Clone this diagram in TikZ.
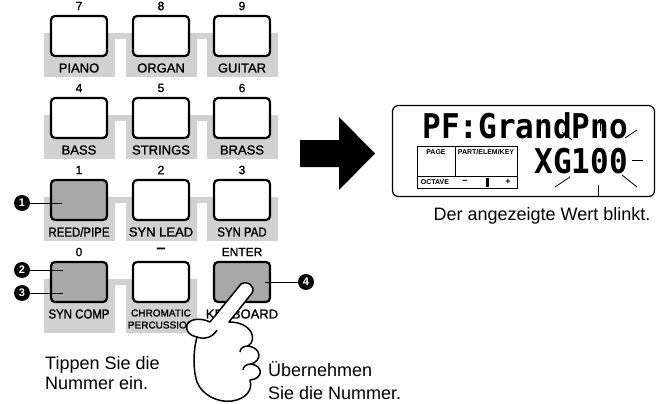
\documentclass[tikz,border=0pt]{standalone}
\usepackage{fontspec}
\setmainfont{Liberation Sans}
\newfontfamily\keyfont[FakeBold=1.2]{Liberation Sans}
\newfontfamily\lcdfont{DejaVu Sans Mono}
\definecolor{panelgray}{gray}{0.82}
\definecolor{keygray}{gray}{0.66}
\def\sz#1{\fontsize{#1}{#1}\selectfont}
\def\lcd#1{\lcdfont\bfseries\sz{31}\scalebox{1}[1.1]{#1}}
\def\narrow#1{\scalebox{0.88}[1]{#1}}

\tikzset{
  key/.style={draw, line width=2.2pt, rounded corners=4pt, fill=white, minimum width=56pt, minimum height=40pt, inner sep=0pt},
  hit/.style={key, fill=keygray},
  keyname/.style={font=\keyfont\sz{13}, inner sep=0pt},
  keynum/.style={font=\keyfont\sz{12}, inner sep=0pt},
  badge/.style={circle, fill=black, text=white, font=\bfseries\sz{11}, inner sep=0pt, minimum size=16pt},
  lead/.style={line width=0.8pt},
  small/.style={font=\bfseries\sz{7}, inner sep=0pt},
  caption/.style={font=\sz{18}, inner sep=0pt},
  hand/.style={draw, fill=white, line width=1.5pt, line join=round}
}

\begin{document}
\begin{tikzpicture}[x=1pt, y=-1pt]
\useasboundingbox (0,0) rectangle (670,404);

% grey strips behind the keys
\foreach \y in {36,118,200}{
  \fill[panelgray] (44,\y-3) rectangle (278,\y+3);
  \foreach \x in {79,161,242} \fill[panelgray] (\x-35,\y-3) rectangle (\x+36,\y+41);
}
\fill[panelgray] (44,279) rectangle (197,285);
\foreach \x in {79,161} \fill[panelgray] (\x-35,279) rectangle (\x+36,333);

% keys
\foreach \n/\x/\y/\lab in {7/79/36/PIANO, 8/161/36/ORGAN, 9/242/36/GUITAR,
    4/79/118/BASS, 5/161/118/STRINGS, 6/242/118/BRASS,
    2/161/200/SYN LEAD, 3/242/200/\narrow{SYN PAD}}{
  \node[key] (k\n) at (\x,\y) {};
  \node[keynum] (k\n-num) at (\x,\y-30) {\n};
  \node[keyname] (k\n-lab) at (\x,\y+32) {\lab};
}
\node[hit] (k1) at (79,200) {};
\node[keynum] (k1-num) at (79,170) {1};
\node[keyname] (k1-lab) at (79,232) {\narrow{REED/PIPE}};
\node[hit] (k0) at (79,282) {};
\node[keynum] (k0-num) at (79,252) {0};
\node[keyname] (k0-lab) at (79,314) {\narrow{SYN COMP}};
\node[key] (kdash) at (161,282) {};
\node[keynum, font=\bfseries\sz{17}] (kdash-num) at (161,251) {–};
\node[keyname, font=\keyfont\fontsize{10}{12}\selectfont, align=center] (kdash-lab) at (161,319) {CHROMATIC\\PERCUSSION};
\node[hit] (kent) at (242,282) {};
\node[keynum] (kent-num) at (242,252) {ENTER};
\node[keyname] (kent-lab) at (242,314) {KEYBOARD};

% step markers
\node[badge] (b1) at (22,203) {1};
\node[badge] (b2) at (22,270) {2};
\node[badge] (b3) at (22,293) {3};
\node[badge] (b4) at (306,282) {4};
\coordinate (b1-end) at (62,203);
\coordinate (b2-end) at (63,270);
\coordinate (b3-end) at (63,293);
\coordinate (b4-end) at (265,282);
\foreach \i in {1,...,4} \draw[lead] (b\i) -- (b\i-end);

% big arrow
\fill (300,140) -- (339,140) -- (339,117) -- (375,153.5) -- (339,190) -- (339,167) -- (300,167) -- cycle;

% display
\node[draw, line width=1.2pt, rounded corners=6pt, minimum width=262pt, minimum height=91pt, inner sep=0pt] (lcd) at (523.5,151) {};
\node[inner sep=0pt, anchor=base east] (lcd-name) at (628,139) {\lcd{PF:GrandPno}};
\node[inner sep=0pt, anchor=base east] (lcd-value) at (628,173) {\lcd{XG100}};
\draw[line width=0.9pt] (417,146) rectangle (517,188) (417,176) -- (517,176) (455,146) -- (455,176);
\node[small] (pg) at (436,152) {PAGE};
\node[small] (pek) at (486,152) {PART/ELEM/KEY};
\node[small] (oct) at (435,182) {OCTAVE};
\node[small, font=\bfseries\sz{10}] (oct-dn) at (465,181.5) {–};
\node[small, font=\bfseries\sz{9}] (oct-up) at (508,182) {+};
\fill (485.5,177.5) rectangle (488.5,186.5);
\foreach \xa/\ya/\xb/\yb in {600/119/600/131, 562/132/572/140, 625/138/637/130,
    632/160/643/160, 622/175/637/187, 555/187/570/177, 598/185/598/197}
  \draw[line width=0.8pt] (\xa,\ya) -- (\xb,\yb);

% captions
\node[caption, anchor=base] (blink) at (542,220.5) {Der angezeigte Wert blinkt.};
\node[caption, anchor=base west] (tip1) at (45,369) {Tippen Sie die};
\node[caption, anchor=base west] (tip2) at (45,389) {Nummer ein.};
\node[caption, anchor=base west] (ok1) at (268,376) {Übernehmen};
\node[caption, anchor=base west] (ok2) at (268,399) {Sie die Nummer.};

% pointing hand
\draw[hand] (241,284) -- (210,322)
  .. controls (202,318) and (190,318) .. (187,325)
  .. controls (185,331) and (190,336) .. (197,337)
  .. controls (193,352) and (193,370) .. (197,382)
  .. controls (202,395) and (218,403) .. (232,401)
  .. controls (246,399) and (253,390) .. (250,380)
  .. controls (263,379) and (264,366) .. (251,364)
  .. controls (262,361) and (262,348) .. (248,346)
  .. controls (258,340) and (252,322) .. (229,322)
  -- (252,293)
  .. controls (256,287) and (248,280) .. (241,284) -- cycle;
\draw[hand, fill=none] (197,337) .. controls (205,340) and (213,337) .. (217,330);
\draw[hand, fill=none] (248,346) .. controls (243,346) and (240,349) .. (240,352);
\draw[hand, fill=none] (251,364) .. controls (246,364) and (243,367) .. (243,370);
\end{tikzpicture}
\end{document}
